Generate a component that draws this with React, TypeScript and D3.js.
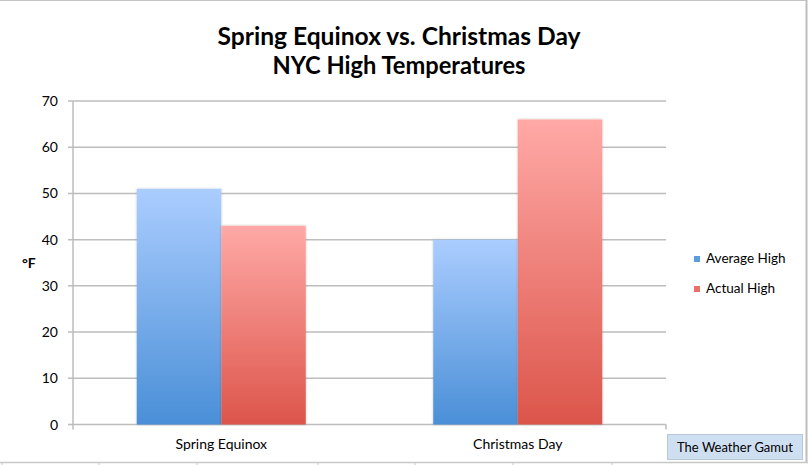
import React from "react";
import * as d3 from "d3";

const categories = ["Spring Equinox", "Christmas Day"];
const seriesNames = ["Average High", "Actual High"];
const averageHigh = [51, 40];
const actualHigh = [43, 66];
const yTicks = [0, 10, 20, 30, 40, 50, 60, 70];
const titleLines = ["Spring Equinox vs. Christmas Day", "NYC High Temperatures"];
const titleWidths = [363, 253];
const cellTicks = [2, 99, 197, 318, 415, 513, 612];

const W = 808;
const H = 465;
const plot = { left: 73, right: 666, top: 101, bottom: 424.5 };

const gradients = [
  { id: "gBlue", top: "#abcdff", bottom: "#4a8fd7" },
  { id: "gRed", top: "#ffa9a6", bottom: "#dc554b" },
];
const legendColors = ["#5b9be0", "#e8716a"];

const font = "Lato, 'Open Sans', sans-serif";

export default function App() {
  const x0 = d3
    .scaleBand<string>()
    .domain(categories)
    .range([plot.left, plot.right])
    .paddingInner(0.43)
    .paddingOuter(0.215);
  const x1 = d3.scaleBand<string>().domain(seriesNames).range([0, x0.bandwidth()]);
  const y = d3.scaleLinear().domain([0, 70]).range([plot.bottom, plot.top]);
  const values = [averageHigh, actualHigh];

  return (
    <svg width={W} height={H} style={{ position: "absolute", left: 0, top: 0 }}>
      <defs>
        {gradients.map((g) => (
          <linearGradient key={g.id} id={g.id} x1="0" y1="0" x2="0" y2="1">
            <stop offset="0%" stopColor={g.top} />
            <stop offset="100%" stopColor={g.bottom} />
          </linearGradient>
        ))}
        <filter id="shadow" x="-10%" y="-10%" width="120%" height="120%">
          <feDropShadow dx="0" dy="0" stdDeviation="1.2" floodColor="#000" floodOpacity="0.25" />
        </filter>
      </defs>
      <rect x={0} y={0} width={W} height={H} fill="#fff" />
      {/* frame */}
      <line x1={0} x2={807} y1={0.5} y2={0.5} stroke="#c4c4c4" strokeWidth={1} />
      <line x1={806.5} x2={806.5} y1={0} y2={462} stroke="#bdbdbd" strokeWidth={2} />
      <line x1={0} x2={W} y1={462.5} y2={462.5} stroke="#c8c8c8" strokeWidth={1.5} />
      {cellTicks.map((t) => (
        <line key={t} x1={t} x2={t} y1={462} y2={465} stroke="#c8c8c8" strokeWidth={1} />
      ))}

      {/* title */}
      {titleLines.map((t, i) => (
        <text
          key={t}
          x={399}
          y={45 + i * 28.5}
          textAnchor="middle"
          fontFamily={font}
          fontWeight="bold"
          fontSize={25}
          textLength={titleWidths[i]}
          lengthAdjust="spacingAndGlyphs"
          fill="#000"
        >
          {t}
        </text>
      ))}

      {/* gridlines */}
      {yTicks.map((t) => (
        <g key={t}>
          <line
            x1={plot.left - 5}
            x2={plot.right}
            y1={y(t)}
            y2={y(t)}
            stroke="#bdbdbd"
            strokeWidth={1.5}
          />
          <text
            x={58}
            y={y(t) + 5}
            textAnchor="end"
            fontFamily={font}
            fontSize={14}
            fill="#000"
          >
            {t}
          </text>
        </g>
      ))}
      <line x1={plot.left} x2={plot.left} y1={plot.top} y2={plot.bottom + 5} stroke="#bdbdbd" strokeWidth={1.5} />
      <line x1={plot.right} x2={plot.right} y1={plot.bottom} y2={plot.bottom + 5} stroke="#bdbdbd" strokeWidth={1.5} />
      <text x={22} y={268} fontFamily={font} fontWeight="bold" fontSize={14} fill="#000">
        °F
      </text>

      {/* bars */}
      {categories.map((c, ci) => (
        <g key={c}>
          {seriesNames.map((s, si) => {
            const bx = (x0(c) ?? 0) + (x1(s) ?? 0);
            const by = y(values[si][ci]);
            return (
              <rect
                key={s}
                x={bx}
                y={by}
                width={x1.bandwidth()}
                height={plot.bottom - by}
                fill={`url(#${gradients[si].id})`}
                filter="url(#shadow)"
              />
            );
          })}
          <text
            x={(x0(c) ?? 0) + x0.bandwidth() / 2}
            y={449}
            textAnchor="middle"
            fontFamily={font}
            fontSize={14}
            fill="#000"
          >
            {c}
          </text>
        </g>
      ))}

      {/* legend */}
      {seriesNames.map((s, i) => (
        <g key={s}>
          <rect x={694} y={256 + i * 30} width={6} height={6} fill={legendColors[i]} />
          <text x={706} y={263 + i * 30} fontFamily={font} fontSize={13.5} fill="#000">
            {s}
          </text>
        </g>
      ))}

      {/* watermark box */}
      <rect x={667.5} y={434.5} width={135} height={25} fill="#cfdff2" stroke="#b9c7d6" strokeWidth={1} />
      <text x={735} y={452} textAnchor="middle" fontFamily={font} fontSize={13} fill="#000">
        The Weather Gamut
      </text>
    </svg>
  );
}
